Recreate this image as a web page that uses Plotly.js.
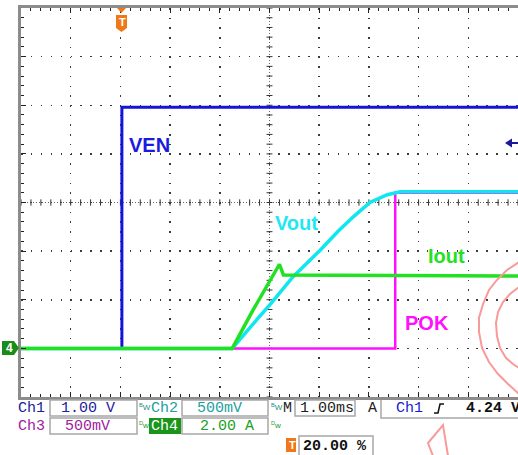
<!DOCTYPE html>
<html><head><meta charset="utf-8">
<script src="https://cdn.plot.ly/plotly-3.0.1.min.js"></script>
<style>html,body{margin:0;padding:0;background:#fff;}#plot{width:518px;height:455px;}</style>
</head><body><div id="plot"></div>
<script>
// ---- data (time in ms, values in channel units) ----
const tVEN  = [-2, 0.03, 0.03, 8];
const vVEN  = [0, 0, 4.96, 4.96];                 // V
const tPOK  = [-2, 5.53, 5.53, 8];
const vPOK  = [0, 0, 1.60, 1.60];                 // V
const tVout = [-2, 2.25, 2.77, 3.01, 3.47, 4.02, 4.37, 4.68, 5.02, 5.37, 5.63, 8];
const vVout = [0, 0, 0.31, 0.45, 0.735, 1.01, 1.20, 1.35, 1.50, 1.58, 1.61, 1.61]; // V
const tIout = [-2, 2.25, 2.67, 3.01, 3.20, 3.28, 8];
const iIout = [0, 0, 1.58, 2.81, 3.46, 3.02, 2.98];  // A
// channel scales (per division); ground at -3 div
const scaleCh1 = 1.0, scaleCh2 = 0.5, scaleCh3 = 0.5, scaleCh4 = 2.0;
const timeRange = [-2, 8];   // 1 ms/div, trigger at 20 %
// readout texts
const rdCh = ["Ch1", "Ch2", "Ch3", "Ch4"];
const rdScale = ["1.00 V", "500mV", "500mV", "2.00 A"];
const rdTime = "1.00ms", rdTrigSrc = "Ch1", rdTrigLvl = "4.24 V", rdTrigPos = "20.00 %";

// ---- geometry helpers (pixels -> paper) ----
const L = 21, R = 518, T = 8, B = 397;
const px = x => (x - L) / (R - L);
const py = y => (B - y) / (B - T);
function path(pts, close) {
  return pts.map((p, i) => (i ? "L" : "M") + px(p[0]).toFixed(4) + "," + py(p[1]).toFixed(4)).join(" ") + (close ? " Z" : "");
}

const chAx = (s) => ({overlaying: "y", range: [-1 * s, 7 * s], visible: false, fixedrange: true});

const traces = [
  {x: tVEN, y: vVEN, yaxis: "y2", mode: "lines", line: {color: "#1414d8", width: 3}, hoverinfo: "skip"},
  {x: tPOK, y: vPOK, yaxis: "y3", mode: "lines", line: {color: "#ff10ff", width: 2.5}, hoverinfo: "skip"},
  {x: tVout, y: vVout, yaxis: "y4", mode: "lines", line: {color: "#10e6f0", width: 3.5}, hoverinfo: "skip"},
  {x: tIout, y: iIout, yaxis: "y5", mode: "lines", line: {color: "#22e022", width: 3.5}, hoverinfo: "skip"}
];

// center cross with ticks (data coords: x ms, y div)
const shapes = [];
shapes.push({type: "line", xref: "x", yref: "y", x0: timeRange[0], x1: timeRange[1], y0: 0, y1: 0, layer: "below",
  line: {color: "#666", width: 1, dash: "1px,2px"}});
shapes.push({type: "line", xref: "x", yref: "y", x0: 3, x1: 3, y0: -4, y1: 4, layer: "below",
  line: {color: "#666", width: 1, dash: "1px,2px"}});
for (let i = 0; i <= 50; i++) {
  const xv = timeRange[0] + i * 0.2;
  shapes.push({type: "line", xref: "x", yref: "y", x0: xv, x1: xv, y0: -0.065, y1: 0.065, layer: "below", line: {color: "#333", width: 1}});
}
for (let i = 0; i <= 40; i++) {
  const yv = -4 + i * 0.2;
  shapes.push({type: "line", xref: "x", yref: "y", x0: 2.94, x1: 3.06, y0: yv, y1: yv, layer: "below", line: {color: "#333", width: 1}});
}

// watermark (pink stamp fragments)
const pink = {color: "#f99a9a", width: 2};
shapes.push({type: "path", xref: "paper", yref: "paper", line: pink,
  path: path([[519,262],[507,270],[497,280],[489,290],[483,304],[479,318],[479,332],[482,348],[489,362],[498,374],[508,384],[519,394]])});
shapes.push({type: "path", xref: "paper", yref: "paper", line: pink,
  path: path([[519,287],[510,294],[503,302],[498,312],[496,323],[497,336],[500,348],[506,358],[513,364],[519,368]])});
shapes.push({type: "path", xref: "paper", yref: "paper", line: pink,
  path: path([[433,456],[428,443],[443,425],[448,456]])});
shapes.push({type: "path", xref: "paper", yref: "paper", line: pink, path: path([[368,456],[373,451]])});

// readout boxes
const boxLine = {color: "#a8a8a8", width: 1.5};
function box(x0, y0, x1, y1) {
  shapes.push({type: "rect", xref: "paper", yref: "paper", x0: px(x0), x1: px(x1), y0: py(y1), y1: py(y0), line: boxLine, fillcolor: "#fff"});
}
box(50, 400, 137, 416); box(182, 400, 268, 416); box(295, 400, 355, 416);
box(50, 418, 137, 434); box(182, 418, 268, 434); box(299, 436, 373, 456);
shapes.push({type: "path", xref: "paper", yref: "paper", line: boxLine, path: path([[381,400],[381,418],[519,418]])});
// Ch4 highlighted label background
shapes.push({type: "rect", xref: "paper", yref: "paper", x0: px(149), x1: px(181), y0: py(434), y1: py(418), line: {width: 0}, fillcolor: "#1a941a"});
// trigger slope glyph
shapes.push({type: "path", xref: "paper", yref: "paper", line: {color: "#111", width: 1.5}, path: path([[434,413],[438,413],[440,404],[444,404]])});
// markers: trigger position (top), ground (left), trigger level (right), trigger pos icon (bottom)
shapes.push({type: "path", xref: "paper", yref: "paper", line: {width: 0}, fillcolor: "#f07818", path: path([[117,8],[126,8],[121.5,13]], true)});
shapes.push({type: "path", xref: "paper", yref: "paper", line: {width: 0}, fillcolor: "#f07818", path: path([[116,15],[127,15],[127,28],[121.5,32],[116,28]], true)});
shapes.push({type: "path", xref: "paper", yref: "paper", line: {width: 0}, fillcolor: "#1a8c1a", path: path([[2,341],[14,341],[19,348],[14,355],[2,355]], true)});
shapes.push({type: "path", xref: "paper", yref: "paper", line: {width: 0}, fillcolor: "#1a1a9a", path: path([[505,143],[512,138.5],[512,147.5]], true)});
shapes.push({type: "line", xref: "paper", yref: "paper", x0: px(511), x1: px(519), y0: py(143), y1: py(143), line: {color: "#1a1a9a", width: 2}});
shapes.push({type: "rect", xref: "paper", yref: "paper", x0: px(286), x1: px(296), y0: py(452), y1: py(438), line: {width: 0}, fillcolor: "#f07818"});

// annotations
const ann = [];
function txt(s, x, y, color, size, fam, weight) {
  ann.push({text: s, xref: "paper", yref: "paper", x: px(x), y: py(y), xanchor: "left", yanchor: "middle",
    showarrow: false, borderpad: 0, font: {family: fam || "Liberation Mono, DejaVu Sans Mono, monospace", size: size || 15, color: color, weight: weight || "normal"}});
}
const lab = "Liberation Sans, Arial, sans-serif";
txt("VEN", 128, 145, "#1a1ae0", 20, lab, "bold");
txt("Vout", 274, 223, "#20e8f2", 20, lab, "bold");
txt("Iout", 427, 256, "#22e022", 20, lab, "bold");
txt("POK", 404, 323, "#ff10ff", 20, lab, "bold");

txt(rdCh[0], 17, 408, "#1c1c94");
txt(rdScale[0], 60, 408, "#2020a0");
txt("<sup>B</sup>W", 138, 407, "#2a8a8a", 8, lab);
txt(rdCh[1], 150, 408, "#1ca0a0");
txt(rdScale[1], 196, 408, "#1ca0a0");
txt("<sup>B</sup>W", 270, 407, "#2a8a8a", 8, lab);
txt("M", 282, 408, "#222");
txt(rdTime, 299, 408, "#222");
txt("A", 367, 408, "#222");
txt(rdTrigSrc, 395, 408, "#1a1ad0");
txt(rdTrigLvl, 465, 408, "#111", 15, null, "bold");

txt(rdCh[2], 17, 426, "#a020a0");
txt(rdScale[2], 64, 426, "#a020a0");
txt("<sup>D</sup>w", 138, 425, "#1a9a1a", 8, lab);
txt(rdCh[3], 150, 426, "#ffffff");
txt(rdScale[3], 199, 426, "#20a020");
txt("<sup>D</sup>w", 270, 425, "#1a9a1a", 8, lab);

txt(rdTrigPos, 302, 446, "#111", 15, null, "bold");
txt("T", 287.5, 445, "#fff", 11, lab, "bold");
txt("T", 117.5, 22, "#fff", 11, lab, "bold");
txt("4", 5, 348, "#fff", 12, lab, "bold");

const layout = {
  width: 518, height: 455,
  margin: {l: L, r: 518 - R, t: T, b: 455 - B, pad: 0},
  paper_bgcolor: "#fff", plot_bgcolor: "#fff",
  showlegend: false,
  xaxis: {range: timeRange, dtick: 1, tick0: 0, showgrid: true, gridcolor: "#3a3a3a", gridwidth: 1.5,
    griddash: "1.5px,8.2px", zeroline: false, showticklabels: false,
    ticks: "inside", ticklen: 5, tickcolor: "#222", tickwidth: 1,
    minor: {dtick: 0.2, tick0: 0, ticks: "inside", ticklen: 3, tickcolor: "#222", showgrid: false},
    showline: true, linecolor: "#8c8c8c", linewidth: 3, mirror: "ticks", fixedrange: true},
  yaxis: {range: [-4, 4], dtick: 1, tick0: 0, showgrid: true, gridcolor: "#3a3a3a", gridwidth: 1.5,
    griddash: "1.5px,8.4px", zeroline: false, showticklabels: false,
    ticks: "inside", ticklen: 5, tickcolor: "#222", tickwidth: 1,
    minor: {dtick: 0.2, tick0: 0, ticks: "inside", ticklen: 3, tickcolor: "#222", showgrid: false},
    showline: true, linecolor: "#8c8c8c", linewidth: 3, mirror: false, fixedrange: true},
  yaxis2: chAx(scaleCh1),
  yaxis3: chAx(scaleCh3),
  yaxis4: chAx(scaleCh2),
  yaxis5: chAx(scaleCh4),
  shapes: shapes,
  annotations: ann
};
Plotly.newPlot("plot", traces, layout, {staticPlot: true, displayModeBar: false});
</script>
</body></html>
